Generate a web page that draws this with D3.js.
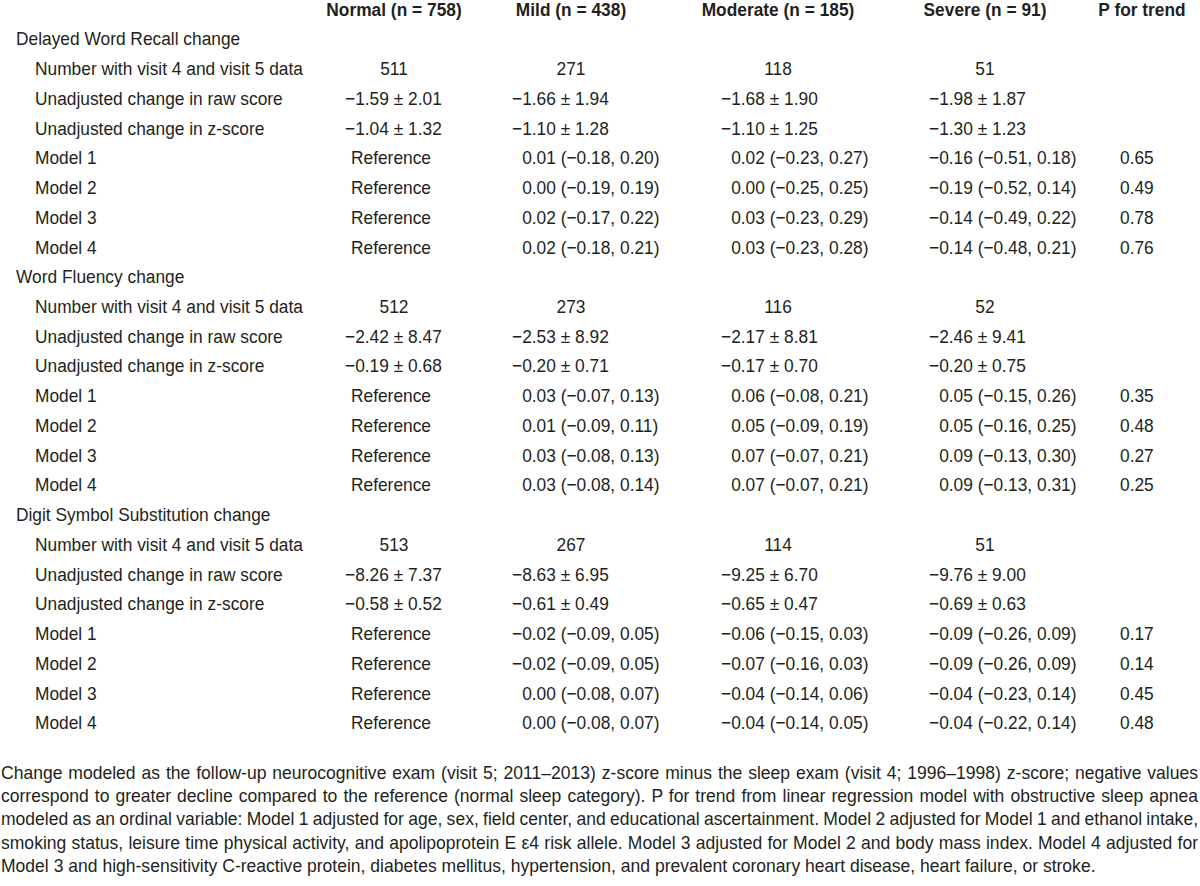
<!DOCTYPE html>
<html>
<head>
<meta charset="utf-8"/>
<script src="https://cdn.jsdelivr.net/npm/d3@7"></script>
<style>
  body { margin: 0; background: #fff; }
  text { fill: #231f20; }
</style>
</head>
<body>
<svg id="chart" width="1200" height="886"></svg>
<script>
// column headers
var groups = ["Normal (n = 758)", "Mild (n = 438)", "Moderate (n = 185)", "Severe (n = 91)", "P for trend"];
var sections = ["Delayed Word Recall change", "Word Fluency change", "Digit Symbol Substitution change"];
var rowLabels = ["Number with visit 4 and visit 5 data", "Unadjusted change in raw score",
  "Unadjusted change in z-score", "Model 1", "Model 2", "Model 3", "Model 4"];

// number with visit 4 and 5 data, per section: normal, mild, moderate, severe
var counts = [[511, 271, 118, 51], [512, 273, 116, 52], [513, 267, 114, 51]];
// unadjusted change in raw score: [mean, sd]
var rawChange = [
  [[-1.59, 2.01], [-1.66, 1.94], [-1.68, 1.90], [-1.98, 1.87]],
  [[-2.42, 8.47], [-2.53, 8.92], [-2.17, 8.81], [-2.46, 9.41]],
  [[-8.26, 7.37], [-8.63, 6.95], [-9.25, 6.70], [-9.76, 9.00]]
];
// unadjusted change in z-score: [mean, sd]
var zChange = [
  [[-1.04, 1.32], [-1.10, 1.28], [-1.10, 1.25], [-1.30, 1.23]],
  [[-0.19, 0.68], [-0.20, 0.71], [-0.17, 0.70], [-0.20, 0.75]],
  [[-0.58, 0.52], [-0.61, 0.49], [-0.65, 0.47], [-0.69, 0.63]]
];
// models 1-4: [estimate, lower, upper] for mild, moderate, severe (normal = reference)
var modelEst = [
  [ [[0.01, -0.18, 0.20], [0.02, -0.23, 0.27], [-0.16, -0.51, 0.18]],
    [[0.00, -0.19, 0.19], [0.00, -0.25, 0.25], [-0.19, -0.52, 0.14]],
    [[0.02, -0.17, 0.22], [0.03, -0.23, 0.29], [-0.14, -0.49, 0.22]],
    [[0.02, -0.18, 0.21], [0.03, -0.23, 0.28], [-0.14, -0.48, 0.21]] ],
  [ [[0.03, -0.07, 0.13], [0.06, -0.08, 0.21], [0.05, -0.15, 0.26]],
    [[0.01, -0.09, 0.11], [0.05, -0.09, 0.19], [0.05, -0.16, 0.25]],
    [[0.03, -0.08, 0.13], [0.07, -0.07, 0.21], [0.09, -0.13, 0.30]],
    [[0.03, -0.08, 0.14], [0.07, -0.07, 0.21], [0.09, -0.13, 0.31]] ],
  [ [[-0.02, -0.09, 0.05], [-0.06, -0.15, 0.03], [-0.09, -0.26, 0.09]],
    [[-0.02, -0.09, 0.05], [-0.07, -0.16, 0.03], [-0.09, -0.26, 0.09]],
    [[0.00, -0.08, 0.07], [-0.04, -0.14, 0.06], [-0.04, -0.23, 0.14]],
    [[0.00, -0.08, 0.07], [-0.04, -0.14, 0.05], [-0.04, -0.22, 0.14]] ]
];
var pTrend = [[0.65, 0.49, 0.78, 0.76], [0.35, 0.48, 0.27, 0.25], [0.17, 0.14, 0.45, 0.48]];

var footnote = [
  "Change modeled as the follow-up neurocognitive exam (visit 5; 2011\u20132013) z-score minus the sleep exam (visit 4; 1996\u20131998) z-score; negative values",
  "correspond to greater decline compared to the reference (normal sleep category). P for trend from linear regression model with obstructive sleep apnea",
  "modeled as an ordinal variable: Model 1 adjusted for age, sex, field center, and educational ascertainment. Model 2 adjusted for Model 1 and ethanol intake,",
  "smoking status, leisure time physical activity, and apolipoprotein E \u03b54 risk allele. Model 3 adjusted for Model 2 and body mass index. Model 4 adjusted for",
  "Model 3 and high-sensitivity C-reactive protein, diabetes mellitus, hypertension, and prevalent coronary heart disease, heart failure, or stroke."
];

var svg = d3.select('#chart');
// the scan's face is a slightly condensed grotesque: squeeze Liberation Sans a little
var FONT = "'Liberation Sans', Arial, sans-serif";
var K = 0.92;

function measure(str, size, weight) {
  var t = svg.append('text').attr('font-family', FONT).attr('font-size', size)
    .attr('font-weight', weight || 'normal').text(str);
  var w = t.node().getComputedTextLength();
  t.remove();
  return w;
}
// font size so the long label is as wide as in the table
var fs = 100 * 268 / (K * measure(rowLabels[0], 100));
// footnote: last (unjustified) line ends near x = 1096
var fsNote = 100 * 1095 / (K * measure(footnote[footnote.length - 1], 100));
var minusW = K * measure('\u2212', fs);

var fmt = function(v) { return (v < 0 ? '\u2212' : '') + Math.abs(v).toFixed(2); };

// rows: header + 3 sections * (1 title + 7 rows)
var nRows = 1 + sections.length * (1 + rowLabels.length);
var y = d3.scaleLinear().domain([0, nRows - 1]).range([9, 722.5]);
var base = function(i) { return y(i) + fs * 0.358; };

// header centres, left edges of value rows
var xCenter = d3.scaleOrdinal().domain(groups).range([394, 571, 778, 985, 1142]);
var xLeft = d3.scaleOrdinal().domain(groups).range([345, 512, 721, 929, 1120]);
var xLabel = d3.scaleOrdinal().domain(['section', 'row']).range([16, 35]);

function txt(str, x, yy, anchor, weight, size) {
  return svg.append('text')
    .attr('transform', 'translate(' + x + ',' + yy + ') scale(' + K + ',1)')
    .attr('font-family', FONT).attr('font-size', size || fs)
    .attr('font-weight', weight || 'normal')
    .attr('text-anchor', anchor || 'start')
    .text(str);
}

groups.forEach(function(g) { txt(g, xCenter(g), base(0), 'middle', 'bold'); });

var row = 1;
sections.forEach(function(s, si) {
  txt(s, xLabel('section'), base(row), 'start');
  row++;
  rowLabels.forEach(function(lab, ri) {
    txt(lab, xLabel('row'), base(row), 'start');
    groups.slice(0, 4).forEach(function(g, gi) {
      var str, x, anchor = 'start';
      if (ri === 0) { str = String(counts[si][gi]); x = xCenter(g); anchor = 'middle'; }
      else if (ri === 1) { str = fmt(rawChange[si][gi][0]) + ' \u00b1 ' + fmt(rawChange[si][gi][1]); x = xLeft(g); }
      else if (ri === 2) { str = fmt(zChange[si][gi][0]) + ' \u00b1 ' + fmt(zChange[si][gi][1]); x = xLeft(g); }
      else if (gi === 0) { str = 'Reference'; x = xCenter(g) - 3; anchor = 'middle'; }
      else {
        var m = modelEst[si][ri - 3][gi - 1];
        str = fmt(m[0]) + ' (' + fmt(m[1]) + ', ' + fmt(m[2]) + ')';
        x = xLeft(g) + (m[0] < 0 ? 0 : minusW);
      }
      txt(str, x, base(row), anchor);
    });
    if (ri >= 3) txt(pTrend[si][ri - 3].toFixed(2), xLeft('P for trend'), base(row), 'start');
    row++;
  });
});

// footnote, justified to the full width except the last line
var fy = d3.scaleLinear().domain([0, footnote.length - 1]).range([772, 865]);
footnote.forEach(function(line, i) {
  var t = txt(line, 1, fy(i) + fsNote * 0.358, 'start', 'normal', fsNote);
  if (i < footnote.length - 1) {
    var w = t.node().getComputedTextLength();
    var spaces = line.split(' ').length - 1;
    t.attr('word-spacing', (1197 / K - w) / spaces);
  }
});
</script>
</body>
</html>
